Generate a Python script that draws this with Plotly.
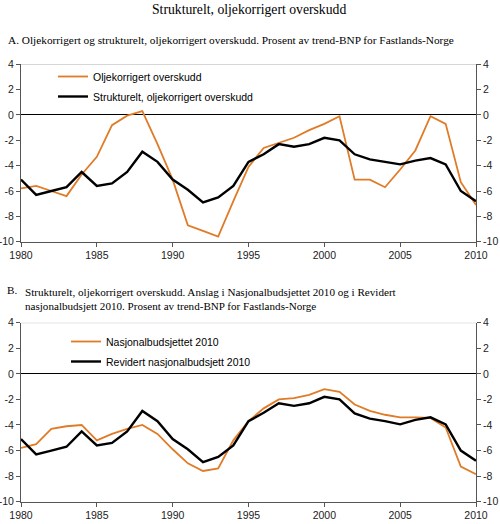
import plotly.graph_objects as go

years = list(range(1980, 2011))

# Panel A
oljekorrigert = [-5.8, -5.6, -6.0, -6.4, -4.7, -3.3, -0.8, -0.05, 0.3, -2.3, -5.1,
                 -8.7, -9.15, -9.6, -6.8, -4.1, -2.6, -2.2, -1.8, -1.2, -0.7,
                 -0.1, -5.1, -5.1, -5.7, -4.3, -2.8, -0.1, -0.7, -5.3, -7.1]
strukturelt = [-5.1, -6.3, -6.0, -5.7, -4.5, -5.6, -5.4, -4.5, -2.9, -3.7, -5.1,
               -5.9, -6.9, -6.5, -5.6, -3.7, -3.1, -2.3, -2.5, -2.3, -1.8,
               -2.0, -3.1, -3.5, -3.7, -3.9, -3.6, -3.4, -3.9, -6.0, -6.8]

# Panel B
nb2010 = [-5.8, -5.5, -4.3, -4.1, -4.0, -5.2, -4.7, -4.3, -4.0, -4.7, -5.9,
          -7.0, -7.6, -7.4, -5.2, -3.7, -2.7, -2.0, -1.9, -1.65, -1.2,
          -1.4, -2.4, -2.9, -3.2, -3.4, -3.4, -3.45, -4.2, -7.25, -7.85]
rnb2010 = [-5.1, -6.3, -6.0, -5.7, -4.5, -5.6, -5.4, -4.5, -2.9, -3.7, -5.1,
           -5.9, -6.9, -6.5, -5.6, -3.7, -3.05, -2.3, -2.5, -2.3, -1.8,
           -2.0, -3.1, -3.5, -3.7, -3.95, -3.6, -3.4, -3.95, -6.0, -6.8]

y_ticks = [4, 2, 0, -2, -4, -6, -8, -10]
y_ticktext = ["4", "2", "0", "-2", "-4", "-6", "-8", "-10"]
x_ticks = [1980, 1985, 1990, 1995, 2000, 2005, 2010]

ORANGE = "#E07B27"
BLACK = "#000000"
AXIS = "#555555"
SANS = "Liberation Sans, Arial, sans-serif"
SERIF = "Liberation Serif, Times New Roman, serif"

W, H = 500, 524
L, R = 21, 24
PW = W - L - R


def py(pix):
    return 1 - pix / H


def px(pix):
    return (pix - L) / PW


fig = go.Figure()

fig.add_trace(go.Scatter(x=years, y=oljekorrigert, mode="lines", name="Oljekorrigert overskudd",
                         line=dict(color=ORANGE, width=1.8), xaxis="x", yaxis="y",
                         legend="legend", legendgroup="a1"))
fig.add_trace(go.Scatter(x=years, y=strukturelt, mode="lines", name="Strukturelt, oljekorrigert overskudd",
                         line=dict(color=BLACK, width=2.4), xaxis="x", yaxis="y",
                         legend="legend", legendgroup="a2"))
fig.add_trace(go.Scatter(x=years, y=nb2010, mode="lines", name="Nasjonalbudsjettet 2010",
                         line=dict(color=ORANGE, width=1.8), xaxis="x2", yaxis="y2",
                         legend="legend2", legendgroup="b1"))
fig.add_trace(go.Scatter(x=years, y=rnb2010, mode="lines", name="Revidert nasjonalbudsjett 2010",
                         line=dict(color=BLACK, width=2.4), xaxis="x2", yaxis="y2",
                         legend="legend2", legendgroup="b2"))

xax = dict(range=[1980, 2010], tickvals=x_ticks, ticks="outside", ticklen=4, tickcolor=AXIS,
           showline=True, linecolor=AXIS, linewidth=1, showgrid=False, zeroline=False,
           automargin=False, tickfont=dict(family=SANS, size=10.5, color="#222"))
yax = dict(range=[-10, 4], tickvals=y_ticks, ticktext=y_ticktext, ticks="outside", ticklen=4,
           tickcolor=AXIS, showline=True, linecolor=AXIS, linewidth=1, showgrid=False,
           zeroline=True, zerolinecolor="#000", zerolinewidth=1.2, automargin=False,
           tickfont=dict(family=SANS, size=10.5, color="#222"))

dom_a = [py(241.7), py(64.3)]
dom_b = [py(501.7), py(322.7)]

fig.update_layout(
    width=W, height=H,
    margin=dict(l=L, r=R, t=0, b=0),
    paper_bgcolor="white", plot_bgcolor="white",
    xaxis=dict(xax, anchor="y", domain=[0, 1]),
    yaxis=dict(yax, anchor="x", domain=dom_a),
    yaxis3=dict(yax, overlaying="y", side="right", anchor="x", zeroline=False),
    xaxis2=dict(xax, anchor="y2", domain=[0, 1]),
    yaxis2=dict(yax, anchor="x2", domain=dom_b),
    yaxis4=dict(yax, overlaying="y2", side="right", anchor="x2", zeroline=False),
    legend=dict(x=px(53), y=py(62), xanchor="left", yanchor="top", bgcolor="rgba(0,0,0,0)",
                font=dict(family=SANS, size=10.5, color="#000"), tracegroupgap=1),
    legend2=dict(x=px(66), y=py(327), xanchor="left", yanchor="top", bgcolor="rgba(0,0,0,0)",
                 font=dict(family=SANS, size=10.5, color="#000"), tracegroupgap=1),
    showlegend=True,
)

# light grey top border of each panel
for xref, yref in [("x domain", "y"), ("x2 domain", "y2")]:
    fig.add_shape(type="line", xref=xref, yref=yref,
                  x0=0, x1=1, y0=4, y1=4, line=dict(color="#bbbbbb", width=1))

# dummy traces so the right-hand axes are drawn
fig.add_trace(go.Scatter(x=[1980], y=[None], xaxis="x", yaxis="y3", showlegend=False, hoverinfo="skip"))
fig.add_trace(go.Scatter(x=[1980], y=[None], xaxis="x2", yaxis="y4", showlegend=False, hoverinfo="skip"))

fig.add_annotation(text="Strukturelt, oljekorrigert overskudd", xref="paper", yref="paper",
                   x=0.5, y=py(10), xanchor="center", yanchor="middle", showarrow=False,
                   font=dict(family=SERIF, size=13.7, color="#000"))
fig.add_annotation(text="A. Oljekorrigert og strukturelt, oljekorrigert overskudd. Prosent av trend-BNP for Fastlands-Norge",
                   xref="paper", yref="paper", x=px(6), y=py(40), xanchor="left", yanchor="middle",
                   showarrow=False, font=dict(family=SERIF, size=11.3, color="#000"))
fig.add_annotation(text="B.", xref="paper", yref="paper", x=px(5), y=py(290), xanchor="left",
                   yanchor="middle", showarrow=False, font=dict(family=SERIF, size=11.2, color="#000"))
fig.add_annotation(text="Strukturelt, oljekorrigert overskudd. Anslag i Nasjonalbudsjettet 2010 og i Revidert<br>"
                        "nasjonalbudsjett 2010. Prosent av trend-BNP for Fastlands-Norge",
                   xref="paper", yref="paper", x=px(23), y=py(298.5), xanchor="left", yanchor="middle",
                   align="left", showarrow=False, font=dict(family=SERIF, size=11.1, color="#000"))

fig.write_html("out.html", config=dict(displayModeBar=False),
               post_script="document.body.style.margin='0';")
